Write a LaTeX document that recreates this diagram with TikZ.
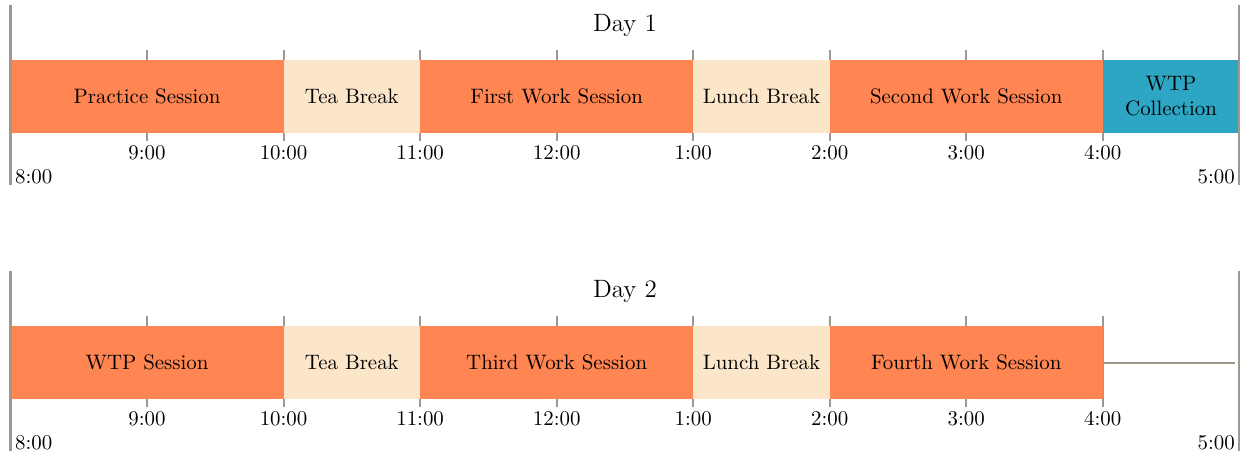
\documentclass[tikz,border=0pt]{standalone}
\usepackage{amsmath}
\usepackage{xcolor}
\usepackage{tikz}
\usetikzlibrary{positioning}
\usetikzlibrary{calc}

\definecolor{sessioncol}{HTML}{FF8552}
\definecolor{breakcol}{HTML}{FCE6C9}
\definecolor{wtpcol}{HTML}{2DA6C4}
\definecolor{tickcol}{HTML}{A0978D}

\begin{document}
\begin{tikzpicture}[x=2.296cm, y=1cm]

\tikzset{%
    every slot/.style = {
        rectangle,
        inner sep=0pt,
        minimum height=1.24cm,
        align=center
    },
    slot session/.style = {fill=sessioncol},
    slot break/.style = {fill=breakcol},
    slot wtp/.style = {fill=wtpcol},
    tick/.style = {draw=tickcol, line width=1pt}
}

\useasboundingbox (-0.177cm,0) rectangle (20.793cm,-7.687);

% day 1
\begin{scope}[yshift=-1.623cm]
\foreach \h in {1,...,8}
  \draw [tick] (\h,0.782) -- (\h,-0.748);
\foreach \s/\e/\k/\l [count=\i] in {0/2/session/Practice Session,
    2/3/break/Tea Break, 3/5/session/First Work Session,
    5/6/break/Lunch Break, 6/8/session/Second Work Session,
    8/9/wtp/{WTP\\Collection}}
  \node [every slot/.try, slot \k/.try, minimum width=(\e-\s)*2.296cm]
    (one-\i) at ({(\s+\e)/2},0) {\l};
\draw [tick] (0,1.539) -- (0,-1.489);
\draw [tick] (9,1.539) -- (9,-1.489);
\foreach \t [count=\h] in {9:00,10:00,11:00,12:00,1:00,2:00,3:00,4:00}
  \node (one-t\h) at (\h,-0.95) {\t};
\node [anchor=base west, inner sep=2pt] (one-start) at (0,-1.47) {8:00};
\node [anchor=base east, inner sep=2pt] (one-end) at (9,-1.47) {5:00};
\node [font=\large] (one-day) at (4.5,1.2) {Day 1};
\end{scope}

% day 2
\begin{scope}[yshift=-6.097cm]
\foreach \h in {1,...,8}
  \draw [tick] (\h,0.782) -- (\h,-0.748);
\foreach \s/\e/\k/\l [count=\i] in {0/2/session/WTP Session,
    2/3/break/Tea Break, 3/5/session/Third Work Session,
    5/6/break/Lunch Break, 6/8/session/Fourth Work Session}
  \node [every slot/.try, slot \k/.try, minimum width=(\e-\s)*2.296cm]
    (two-\i) at ({(\s+\e)/2},0) {\l};
\draw [tick] (0,1.539) -- (0,-1.489);
\draw [tick] (9,1.539) -- (9,-1.489);
\coordinate (two-free) at (8.97,0);
\draw [tick] (two-5.east) -- (two-free);
\foreach \t [count=\h] in {9:00,10:00,11:00,12:00,1:00,2:00,3:00,4:00}
  \node (two-t\h) at (\h,-0.95) {\t};
\node [anchor=base west, inner sep=2pt] (two-start) at (0,-1.47) {8:00};
\node [anchor=base east, inner sep=2pt] (two-end) at (9,-1.47) {5:00};
\node [font=\large] (two-day) at (4.5,1.2) {Day 2};
\end{scope}

\end{tikzpicture}
\end{document}
